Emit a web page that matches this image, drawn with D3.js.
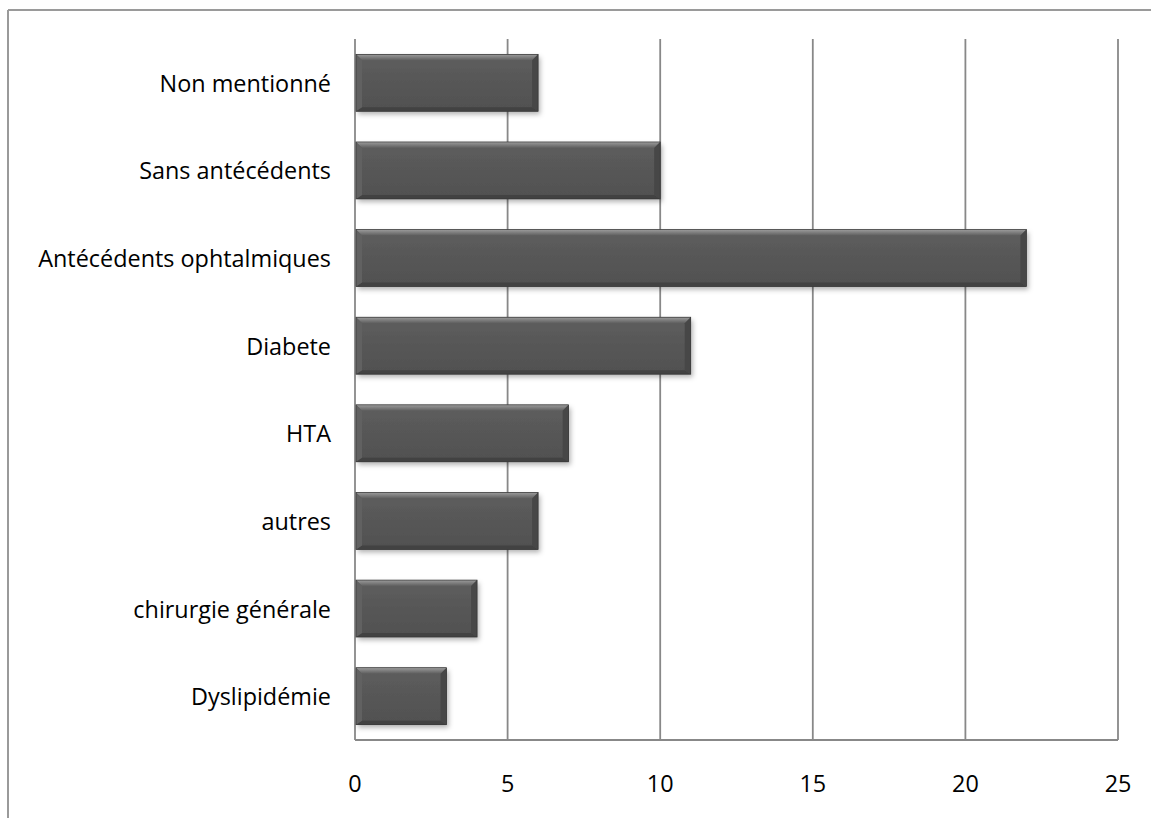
<!DOCTYPE html>
<html>
<head>
<meta charset="utf-8">
<script src="https://cdn.jsdelivr.net/npm/d3@7"></script>
<style>
  html, body { margin: 0; padding: 0; background: #fff; }
  svg { display: block; }
  text { font-family: "Open Sans", "Liberation Sans", sans-serif; fill: #000; }
</style>
</head>
<body>
<script>
const categories = ["Non mentionné", "Sans antécédents", "Antécédents ophtalmiques", "Diabete", "HTA", "autres", "chirurgie générale", "Dyslipidémie"];
const values = [6, 10, 22, 11, 7, 6, 4, 3];
const tickValues = [0, 5, 10, 15, 20, 25];

const W = 1151, H = 818;
const margin = { left: 355, right: W - 1118, top: 39, bottom: H - 740 };

const svg = d3.select("body").append("svg").attr("width", W).attr("height", H);

const defs = svg.append("defs");
const f = defs.append("filter").attr("id", "shadow").attr("x", "-10%").attr("y", "-20%").attr("width", "130%").attr("height", "150%");
f.append("feDropShadow").attr("dx", 2).attr("dy", 3).attr("stdDeviation", 2.5).attr("flood-color", "#000").attr("flood-opacity", 0.3);

const gMain = defs.append("linearGradient").attr("id", "gMain").attr("x1", 0).attr("y1", 0).attr("x2", 0).attr("y2", 1);
gMain.append("stop").attr("offset", "0%").attr("stop-color", "#5e5e5e");
gMain.append("stop").attr("offset", "100%").attr("stop-color", "#505050");
const gTop = defs.append("linearGradient").attr("id", "gTop").attr("x1", 0).attr("y1", 0).attr("x2", 0).attr("y2", 1);
gTop.append("stop").attr("offset", "0%").attr("stop-color", "#9c9c9c");
gTop.append("stop").attr("offset", "100%").attr("stop-color", "#5e5e5e");

// Outer frame
svg.append("line").attr("x1", 8).attr("y1", 10).attr("x2", W).attr("y2", 10).attr("stroke", "#9a9a9a").attr("stroke-width", 2);
svg.append("line").attr("x1", 8).attr("y1", 10).attr("x2", 8).attr("y2", H).attr("stroke", "#9a9a9a").attr("stroke-width", 2);

const x = d3.scaleLinear().domain([0, 25]).range([margin.left, W - margin.right]);
const y = d3.scaleBand().domain(categories).range([margin.top, H - margin.bottom]).paddingInner(0.35).paddingOuter(0.175);

// Gridlines
svg.append("g").selectAll("line").data(tickValues.filter(d => d > 0)).join("line")
  .attr("x1", d => x(d)).attr("x2", d => x(d))
  .attr("y1", margin.top).attr("y2", H - margin.bottom)
  .attr("stroke", "#888").attr("stroke-width", 1.8);

// Axes lines
svg.append("line").attr("x1", x(0)).attr("x2", x(0)).attr("y1", margin.top).attr("y2", H - margin.bottom).attr("stroke", "#888").attr("stroke-width", 1.8);
svg.append("line").attr("x1", x(0)).attr("x2", x(25)).attr("y1", H - margin.bottom).attr("y2", H - margin.bottom).attr("stroke", "#888").attr("stroke-width", 1.8);

// Bars
const data = categories.map((c, i) => ({ c, v: values[i] }));
const bars = svg.append("g").selectAll("g").data(data).join("g");
const b = 6;
bars.append("rect")
  .attr("x", x(0) + 1).attr("y", d => y(d.c))
  .attr("width", d => x(d.v) - x(0) - 1).attr("height", y.bandwidth())
  .attr("fill", "url(#gMain)").attr("filter", "url(#shadow)");
// bevels
bars.append("polygon").attr("fill", "url(#gTop)")
  .attr("points", d => {
    const x0 = x(0) + 1, x1 = x(d.v), y0 = y(d.c);
    return [[x0, y0], [x1, y0], [x1 - b, y0 + b], [x0 + b, y0 + b]].join(" ");
  });
bars.append("polygon").attr("fill", "#424242")
  .attr("points", d => {
    const x0 = x(0) + 1, x1 = x(d.v), y1 = y(d.c) + y.bandwidth();
    return [[x0, y1], [x1, y1], [x1 - b, y1 - b + 2], [x0 + b, y1 - b + 2]].join(" ");
  });
bars.append("polygon").attr("fill", "#474747")
  .attr("points", d => {
    const x1 = x(d.v), y0 = y(d.c), y1 = y0 + y.bandwidth();
    return [[x1, y0], [x1, y1], [x1 - b, y1 - b + 2], [x1 - b, y0 + b]].join(" ");
  });
bars.append("polygon").attr("fill", "#616161")
  .attr("points", d => {
    const x0 = x(0) + 1, y0 = y(d.c), y1 = y0 + y.bandwidth();
    return [[x0, y0], [x0, y1], [x0 + b, y1 - b + 2], [x0 + b, y0 + b]].join(" ");
  });
bars.append("rect")
  .attr("x", x(0) + 1).attr("y", d => y(d.c))
  .attr("width", d => x(d.v) - x(0) - 1).attr("height", y.bandwidth())
  .attr("fill", "none").attr("stroke", "#353535").attr("stroke-width", 0.7);

// Category labels
const labels = svg.append("g").selectAll("text").data(categories).join("text")
  .attr("x", 331).attr("y", d => y(d) + y.bandwidth() / 2)
  .attr("text-anchor", "end").attr("dominant-baseline", "central")
  .attr("font-size", 20)
  .text(d => d);

// fit font size so widest label spans ~293px
let maxW = 0;
labels.each(function () { maxW = Math.max(maxW, this.getComputedTextLength()); });
const fs = 20 * 293 / maxW;
labels.attr("font-size", fs);

// Tick labels
svg.append("g").selectAll("text").data(tickValues).join("text")
  .attr("x", d => x(d)).attr("y", 783)
  .attr("text-anchor", "middle").attr("dominant-baseline", "central")
  .attr("font-size", fs)
  .text(d => d);
</script>
</body>
</html>
